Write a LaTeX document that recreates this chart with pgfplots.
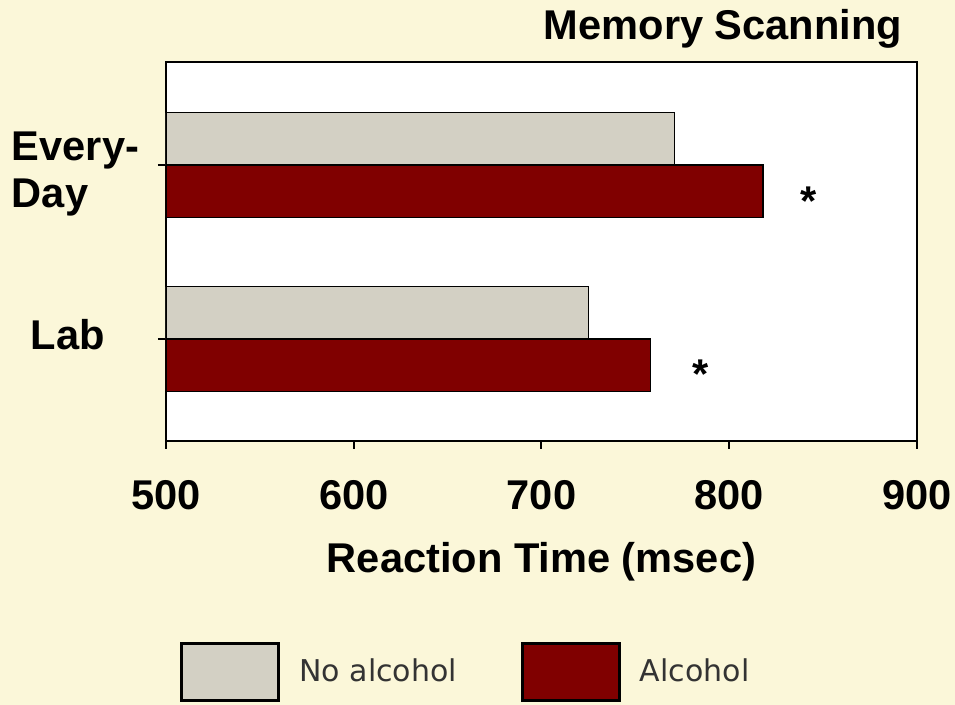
\documentclass[border=0pt]{standalone}
\usepackage{pgfplots}
\pgfplotsset{compat=1.18}
\usepackage{fontspec}
\setmainfont{Liberation Sans}
\newfontfamily\legfont{DejaVu Sans}
\definecolor{bg}{HTML}{FBF7D9}
\definecolor{barg}{HTML}{D3D0C4}
\definecolor{barr}{HTML}{800000}
\newcommand{\bigbf}{\fontsize{20.8}{23.5}\selectfont\bfseries}
\pgfplotsset{mylegimg/.style={legend image code/.code={\draw[draw=black, line width=1.5pt] (0pt,-14.25pt) rectangle (48.5pt,14.25pt);}}}
\begin{document}
\begin{tikzpicture}
\fill[bg] (-83pt,-132pt) rectangle (394.5pt,220.5pt);
\begin{axis}[
  width=375.5pt, height=189.5pt, scale only axis,
  xbar, bar width=0.3,
  xmin=500, xmax=900, xtick={500,600,700,800,900},
  ymin=-0.586, ymax=1.592,
  ytick={0}, yticklabels={\hspace*{9.5pt}Lab},
  extra y ticks={1}, extra y tick labels={\shortstack[l]{Every-\\\rule{0pt}{16pt}Day}},
  extra y tick style={yticklabel style={yshift=-6.5pt}},
  yticklabel style={align=left, text width=63.5pt, xshift=-6pt, yshift=2pt},
  xticklabel style={yshift=-12pt},
  tick align=outside, xtick pos=bottom, ytick pos=left,
  major tick length=4pt,
  axis line style={line width=1pt},
  every tick/.style={black, line width=1pt},
  ticklabel style={font=\bigbf},
  /pgf/number format/assume math mode=true,
  /pgf/number format/1000 sep={},
  xlabel={Reaction Time (msec)}, xlabel style={font=\bigbf, yshift=-9.5pt},
  axis background/.style={fill=white},
  legend style={at={(0.0186,-0.6095)}, anchor=west, draw=none, fill=none, inner sep=0pt,
    font=\legfont\fontsize{15}{18}\selectfont, text=black!80,
    nodes={inner sep=0pt, anchor=west},
    /tikz/every odd column/.append style={column sep=9.5pt},
    /tikz/every even column/.append style={column sep=32pt}},
  legend columns=2,
]
\addplot[fill=barg, draw=black, line width=0.6pt, bar shift=0.15, mylegimg] coordinates {(725,0) (771,1)};
\addplot[fill=barr, draw=black, line width=0.6pt, bar shift=-0.15, mylegimg] coordinates {(758,0) (818,1)};
\legend{No alcohol, Alcohol}
\node[font=\bigbf, anchor=base] at (axis cs:842,0.707) {*};
\node[font=\bigbf, anchor=base] at (axis cs:785,-0.287) {*};
\end{axis}
\node[font=\bigbf, anchor=base] at (278.5pt,200.5pt) {Memory Scanning};
\pgfresetboundingbox
\useasboundingbox (-83pt,-132pt) rectangle (394.5pt,220.5pt);
\end{tikzpicture}
\end{document}
